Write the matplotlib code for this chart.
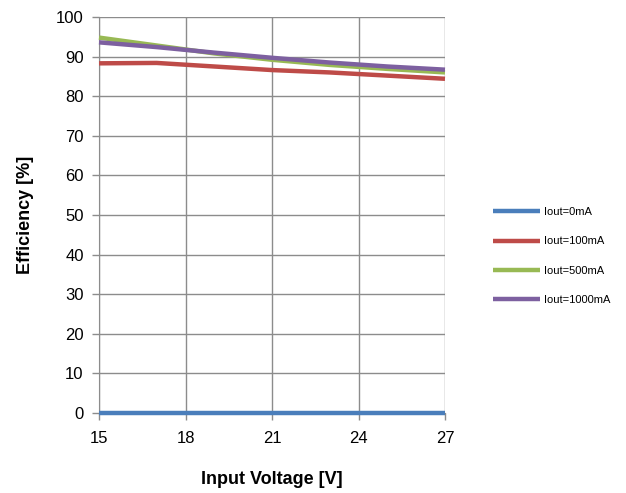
import matplotlib
matplotlib.use("Agg")
import matplotlib.pyplot as plt

plt.rcParams['font.family'] = ['Liberation Sans', 'DejaVu Sans']

vin = [15, 17, 19, 21, 23, 25, 27]
eff_0ma = [0, 0, 0, 0, 0, 0, 0]
eff_100ma = [88.3, 88.4, 87.5, 86.6, 86.0, 85.2, 84.4]
eff_500ma = [94.8, 92.8, 90.8, 89.2, 87.9, 86.9, 86.0]
eff_1000ma = [93.6, 92.4, 91.0, 89.7, 88.5, 87.5, 86.7]
labels = ['Iout=0mA', 'Iout=100mA', 'Iout=500mA', 'Iout=1000mA']
colors = ['#4A7EBB', '#BE4B48', '#98B954', '#7D60A0']

fig = plt.figure(figsize=(6.26, 4.93), dpi=100)
ax = fig.add_axes([99/626, 80/493, 346/626, 396/493])

for ys, lab, c in zip([eff_0ma, eff_100ma, eff_500ma, eff_1000ma], labels, colors):
    ax.plot(vin, ys, color=c, lw=3.2, label=lab, solid_capstyle='butt', clip_on=False, zorder=3)

ax.set_xlim(15, 27)
ax.set_ylim(0, 100)
ax.set_xticks([15, 18, 21, 24, 27])
ax.set_yticks(range(0, 101, 10))
ax.grid(True, color='#8c8c8c', lw=1)
ax.set_axisbelow(True)
for s in ['top', 'right']:
    ax.spines[s].set_visible(False)
for s in ['left', 'bottom']:
    ax.spines[s].set_color('#8c8c8c')
ax.tick_params(axis='both', colors='#8c8c8c', labelcolor='black', labelsize=12, length=5, width=1)
ax.tick_params(axis='x', pad=8)
ax.tick_params(axis='y', pad=6)

ax.set_xlabel('Input Voltage [V]', fontsize=13, fontweight='bold', labelpad=18)
ax.set_ylabel('Efficiency [%]', fontsize=13, fontweight='bold', labelpad=16)

ax.legend(loc='center left', bbox_to_anchor=(1.109, 0.396), frameon=False, fontsize=8,
          handlelength=4.3, labelspacing=1.75, handletextpad=0.36)

fig.savefig('out.png', dpi=100)
